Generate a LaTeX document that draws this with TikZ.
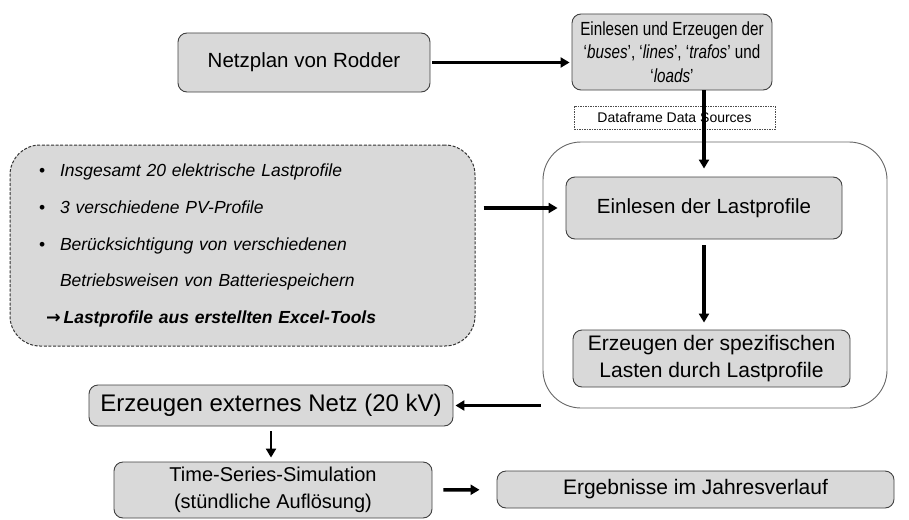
\documentclass[tikz,border=0pt]{standalone}
\usepackage{fontspec}
\setmainfont{Liberation Sans}
\newfontfamily\schmal{Liberation Sans}[FakeStretch=0.8,Ligatures=TeX]
\newfontfamily\pfeilfont{DejaVu Sans}
\usepackage{tikz}
\usetikzlibrary{arrows.meta,positioning}
\tikzset{>={Triangle[length=9pt,width=10pt]}}

\begin{document}
\begin{tikzpicture}[x=1pt,y=-1pt]

\tikzset{greybox/.style={draw=black!75,fill=black!15,rounded corners=9pt,line width=0.9pt,align=center,inner sep=0pt,font=\fontsize{20.5}{27}\selectfont},
framebox/.style={draw=black!60,rounded corners=38pt,line width=0.9pt,inner sep=0pt},
listbox/.style={draw=black!80,fill=black!15,dash pattern=on 3pt off 1.6pt,rounded corners=30pt,line width=1pt,inner xsep=29pt,inner ysep=0pt,align=left,font=\fontsize{17.5}{36.6}\selectfont\itshape},
srcbox/.style={draw=black!70,dash pattern=on 1.5pt off 1pt,line width=0.7pt,fill=white,inner sep=0pt,font=\fontsize{14}{17}\selectfont},
flow/.style={->,line width=3.5pt}}

\useasboundingbox (0,0) rectangle (909,519);

% Nodes
\node[greybox,minimum width=252,minimum height=59] (netz) at (304,62.5) {Netzplan von Rodder};
\node[greybox,minimum width=200,minimum height=76,font=\fontsize{19}{23.5}\selectfont\schmal] (einlesen) at (672,52) {Einlesen und Erzeugen der\\‘\textit{buses}’, ‘\textit{lines}’, ‘\textit{trafos}’ und\\‘\textit{loads}’};
\node[srcbox,minimum width=201,minimum height=23] (quellen) at (674.5,117.5) {Dataframe Data Sources};
\node[framebox,minimum width=344,minimum height=266] (rahmen) at (715,275) {};
\node[greybox,minimum width=276,minimum height=62] (lastprof) at (704,208) {Einlesen der Lastprofile};
\node[greybox,minimum width=277,minimum height=57,font=\fontsize{21}{27}\selectfont] (lasten) at (711.5,358.5) {Erzeugen der spezifischen\\Lasten durch Lastprofile};
\node[listbox,text width=407,minimum height=201] (profile) at (242.5,245.5) {%
\makebox[21pt][l]{\upshape\textbullet}Insgesamt 20 elektrische Lastprofile\\
\makebox[21pt][l]{\upshape\textbullet}3 verschiedene PV-Profile\\
\makebox[21pt][l]{\upshape\textbullet}Berücksichtigung von verschiedenen\\
\hspace*{21pt}Betriebsweisen von Batteriespeichern\\
\hspace*{7pt}\textbf{{\pfeilfont\upshape →}\,Lastprofile aus erstellten Excel-Tools}};
\node[greybox,minimum width=364,minimum height=41,font=\fontsize{24}{27}\selectfont] (extnetz) at (271,405.5) {Erzeugen externes Netz (20 kV)};
\node[greybox,minimum width=318,minimum height=56,font=\fontsize{20}{27}\selectfont] (tss) at (273,490) {Time-Series-Simulation\\(stündliche Auflösung)};
\node[greybox,minimum width=397,minimum height=37,font=\fontsize{21}{27}\selectfont] (ergebnis) at (695.5,489.5) {Ergebnisse im Jahresverlauf};

% Arrows
\draw[flow,shorten <=2pt,shorten >=2pt] (netz.east) -- (netz.east -| einlesen.west);
\draw[flow,shorten >=8pt] (einlesen.south -| lastprof.north) -- (lastprof.north);
\draw[flow,shorten <=8pt,shorten >=8pt] (profile.east |- lastprof) -- (lastprof.west);
\draw[flow,shorten <=6pt,shorten >=7pt] (lastprof.south) -- (lastprof.south |- lasten.north);
\draw[flow,shorten <=2pt,shorten >=2pt] (rahmen.west |- extnetz) -- (extnetz.east);
\draw[flow,line width=2.5pt,shorten <=5pt,shorten >=4pt] (extnetz.south) -- (extnetz.south |- tss.north);
\draw[flow,shorten <=11pt,shorten >=17pt] (tss) -- (ergebnis);

\end{tikzpicture}
\end{document}
